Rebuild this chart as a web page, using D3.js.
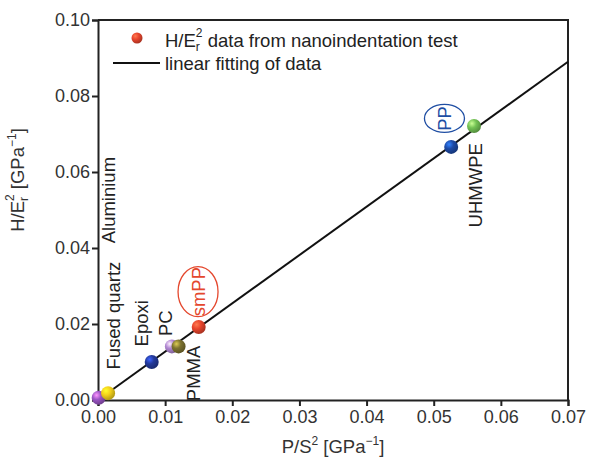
<!DOCTYPE html>
<html>
<head>
<meta charset="utf-8">
<script src="https://cdn.jsdelivr.net/npm/d3@7"></script>
<style>
  html, body { margin: 0; padding: 0; background: #fff; }
  svg { display: block; font-family: "Liberation Sans", Arial, sans-serif; }
</style>
</head>
<body>
<svg id="chart" width="593" height="462"></svg>
<script>
// ---- data ----
const materials = ['Aluminium', 'Fused quartz', 'Epoxi', 'PC', 'PMMA', 'smPP', 'PP', 'UHMWPE'];
const xVals     = [0.0001, 0.0015, 0.0080, 0.0110, 0.0120, 0.0150, 0.0526, 0.0560];
const yVals     = [0.0006, 0.0018, 0.0100, 0.0141, 0.0141, 0.0192, 0.0666, 0.0721];
const colors    = ['#9b55c4', '#f4d21a', '#23399a', '#b087d2', '#7d7330', '#e8452d', '#1d4aa6', '#73c254'];

// where each material name sits (data coords of label centre)
const labelX    = [0.0015, 0.0023, 0.0065, 0.0101, 0.0142, 0.0149, 0.0516, 0.0563];
const labelY    = [0.0526, 0.0222, 0.0202, 0.0202, 0.0070, 0.0285, 0.0741, 0.0565];
const labelCol  = ['#222', '#222', '#222', '#222', '#222', '#e4472d', '#1f4ea3', '#222'];

const fitX = [0, 0.07];
const fitY = [0, 0.089];

const xTicks = [0, 0.01, 0.02, 0.03, 0.04, 0.05, 0.06, 0.07];
const yTicks = [0, 0.02, 0.04, 0.06, 0.08, 0.10];

// ---- layout ----
const M = { l: 98, r: 25, t: 20, b: 62 };
const W = 593, H = 462;
const iw = W - M.l - M.r, ih = H - M.t - M.b;
const FS = 18.5;

const svg = d3.select('#chart');
const g = svg.append('g').attr('transform', `translate(${M.l},${M.t})`);

const x = d3.scaleLinear().domain([0, 0.07]).range([0, iw]);
const y = d3.scaleLinear().domain([0, 0.10]).range([ih, 0]);

// sphere gradients
const defs = svg.append('defs');
function ball(id, c) {
  const gr = defs.append('radialGradient').attr('id', id)
    .attr('cx', '35%').attr('cy', '32%').attr('r', '70%');
  gr.append('stop').attr('offset', '0%').attr('stop-color', d3.color(c).brighter(1.6));
  gr.append('stop').attr('offset', '45%').attr('stop-color', c);
  gr.append('stop').attr('offset', '100%').attr('stop-color', d3.color(c).darker(0.9));
}
colors.forEach((c, i) => ball(`ball${i}`, c));
ball('ballLegend', '#e8452d');

// axes
const xAxis = d3.axisBottom(x).tickValues(xTicks).tickFormat(d3.format('.2f'))
  .tickSizeOuter(0).tickSize(6).tickPadding(4);
const yAxis = d3.axisLeft(y).tickValues(yTicks).tickFormat(d3.format('.2f'))
  .tickSizeOuter(0).tickSize(6).tickPadding(2);

const gx = g.append('g').attr('transform', `translate(0,${ih})`).call(xAxis);
const gy = g.append('g').call(yAxis);
[gx, gy].forEach(a => {
  a.select('.domain').attr('stroke', '#222').attr('stroke-width', 2);
  a.selectAll('.tick line').attr('stroke', '#222').attr('stroke-width', 2);
  a.selectAll('.tick text').attr('fill', '#333').attr('font-size', 18)
    .attr('font-family', '"Liberation Sans", Arial, sans-serif');
});

// top / right frame
g.append('path')
  .attr('d', `M0,0H${iw}V${ih}`)
  .attr('fill', 'none').attr('stroke', '#222').attr('stroke-width', 2);

// fit line
g.append('path')
  .datum(fitX.map((v, i) => [v, fitY[i]]))
  .attr('d', d3.line().x(d => x(d[0])).y(d => y(d[1])))
  .attr('fill', 'none').attr('stroke', '#111').attr('stroke-width', 2);

// material names (rotated) + ellipses round smPP and PP
const labels = g.append('g');
materials.forEach((m, i) => {
  const lx = x(labelX[i]), ly = y(labelY[i]);
  labels.append('text')
    .attr('transform', `translate(${lx},${ly}) rotate(-90)`)
    .attr('text-anchor', 'middle').attr('dy', '0.35em')
    .attr('font-size', FS).attr('fill', labelCol[i]).text(m);
  if (m === 'smPP' || m === 'PP') {
    labels.append('ellipse')
      .attr('cx', lx).attr('cy', ly)
      .attr('rx', m === 'PP' ? 20 : 20).attr('ry', m === 'PP' ? 14 : 25)
      .attr('fill', 'none').attr('stroke', labelCol[i]).attr('stroke-width', 1.3);
  }
});

// points
g.append('g').selectAll('circle')
  .data(materials.map((m, i) => ({ m, x: xVals[i], y: yVals[i], i })))
  .join('circle')
    .attr('cx', d => x(d.x)).attr('cy', d => y(d.y))
    .attr('r', 7).attr('fill', d => `url(#ball${d.i})`);

// legend
const leg = g.append('g');
leg.append('circle').attr('cx', 39).attr('cy', 18).attr('r', 5.5).attr('fill', 'url(#ballLegend)');
const lt = leg.append('text').attr('x', 67).attr('y', 27).attr('font-size', FS).attr('fill', '#222');
lt.append('tspan').text('H/E');
lt.append('tspan').attr('font-size', 12).attr('dy', 4).text('r');
lt.append('tspan').attr('font-size', 12).attr('dx', -4).attr('dy', -14).text('2');
lt.append('tspan').attr('dy', 10).text(' data from nanoindentation test');
leg.append('line').attr('x1', 15).attr('x2', 62).attr('y1', 43).attr('y2', 43)
  .attr('stroke', '#111').attr('stroke-width', 2);
leg.append('text').attr('x', 67).attr('y', 50).attr('font-size', FS).attr('fill', '#222')
  .text('linear fitting of data');

// axis titles
const xt = svg.append('text').attr('x', M.l + iw / 2).attr('y', 453)
  .attr('text-anchor', 'middle').attr('font-size', FS).attr('fill', '#333');
xt.append('tspan').text('P/S');
xt.append('tspan').attr('font-size', 12).attr('dy', -8).text('2');
xt.append('tspan').attr('dy', 8).text(' [GPa');
xt.append('tspan').attr('font-size', 12).attr('dy', -8).text('\u22121');
xt.append('tspan').attr('dy', 8).text(']');

const yt = svg.append('text').attr('transform', `translate(24,180) rotate(-90)`)
  .attr('text-anchor', 'middle').attr('font-size', FS).attr('fill', '#333');
yt.append('tspan').text('H/E');
yt.append('tspan').attr('font-size', 12).attr('dy', 4).text('r');
yt.append('tspan').attr('font-size', 12).attr('dx', -4).attr('dy', -14).text('2');
yt.append('tspan').attr('dy', 10).text(' [GPa');
yt.append('tspan').attr('font-size', 12).attr('dy', -8).text('\u22121');
yt.append('tspan').attr('dy', 8).text(']');
</script>
</body>
</html>
